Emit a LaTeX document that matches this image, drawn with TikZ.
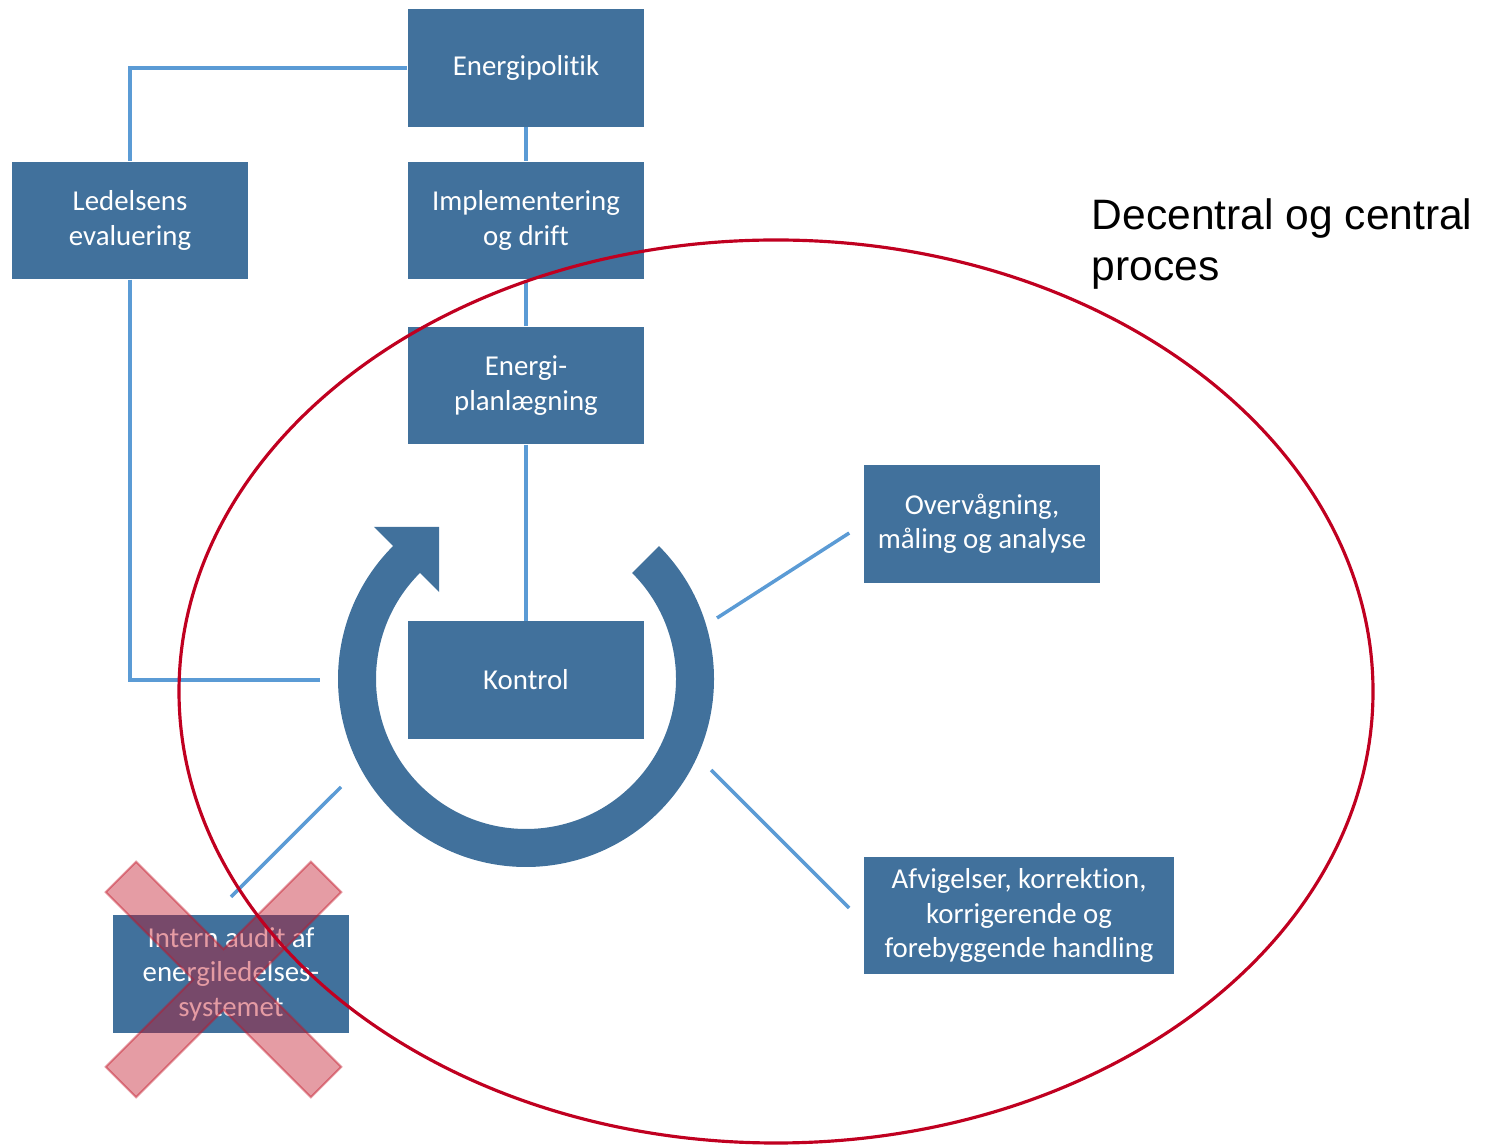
\documentclass[tikz,border=0pt]{standalone}
\usepackage{fontspec}
\setmainfont{Carlito}[RawFeature={-liga;-clig;-dlig;-calt}]
\newfontfamily\arialfont{Liberation Sans}
\usetikzlibrary{calc}

\definecolor{boxblue}{HTML}{41719C}
\definecolor{lineblue}{HTML}{5B9BD5}
\definecolor{ringred}{RGB}{192,0,32}
\definecolor{crossred}{RGB}{194,19,38}

\begin{document}
\begin{tikzpicture}[x=0.01cm,y=0.01cm,
  box/.style={rectangle,fill=boxblue,text=white,minimum width=2.36cm,minimum height=1.17cm,
    inner sep=0pt,align=center,font=\fontsize{8.2}{9.8}\selectfont},
  link/.style={lineblue,line width=1pt}]

\useasboundingbox (0,0) rectangle (1486,1146);

% boxes
\node[box] (pol) at (526,1078) {Energipolitik};
\node[box] (led) at (130,925.5) {Ledelsens\\evaluering};
\node[box] (impl) at (526,925.5) {Implementering\\og drift};
\node[box] (plan) at (526,760.5) {Energi-\\planlægning};
\node[box] (kon) at (526,466) {Kontrol};
\node[box] (ovr) at (982,622) {Overvågning,\\måling og analyse};
\node[box,minimum width=3.1cm] (afv) at (1019,230.5) {Afvigelser, korrektion,\\korrigerende og\\forebyggende handling};
\node[box] (aud) at (231,172) {Intern audit af\\energiledelses-\\systemet};

% free ends round the ring
\coordinate (c) at (526,467);
\coordinate (ringW) at (320,466);
\coordinate (ringNE) at (717,528);
\coordinate (ringSE) at (711,376);
\coordinate (ringSW) at (341,359);

% connectors
\draw[link] (pol.west) -| (led.north);
\draw[link] (pol.south) -- (impl.north);
\draw[link] (impl.south) -- (plan.north);
\draw[link] (plan.south) -- (kon.north);
\draw[link] (led.south) |- (ringW);
\draw[link] (ringNE) -- ($(ovr.west)+(-14,-9)$);
\draw[link] (ringSE) -- ($(afv.west)+(-14,7.5)$);
\draw[link] (ringSW) -- ($(aud.north)+(0,18)$);

% the ring arrow
\fill[boxblue] ($(c)+(45:188)$) arc[start angle=45,end angle=-225,radius=188]
  -- ($(c)+(135:215)$) -- ($(c)+(135:169)+(45:46)$) -- ($(c)+(135:123)$)
  -- ($(c)+(135:150)$) arc[start angle=135,end angle=405,radius=150] -- cycle;

% crossed out
\filldraw[crossred,fill opacity=0.42,draw opacity=0.45,line width=0.6pt,
  shift={(223.5,166.5)},rotate=45]
  (145,21.5) -- (21.5,21.5) -- (21.5,145) -- (-21.5,145) -- (-21.5,21.5)
  -- (-145,21.5) -- (-145,-21.5) -- (-21.5,-21.5) -- (-21.5,-145)
  -- (21.5,-145) -- (21.5,-21.5) -- (145,-21.5) -- cycle;

% process ellipse
\draw[ringred,line width=0.9pt] (776,454.5) ellipse [x radius=597,y radius=451.5];
\node[anchor=north west,inner sep=0pt,align=left,font=\arialfont\fontsize{12.1}{14.4}\selectfont]
  (proc) at (1091,948) {Decentral og central\\proces};

\end{tikzpicture}
\end{document}
